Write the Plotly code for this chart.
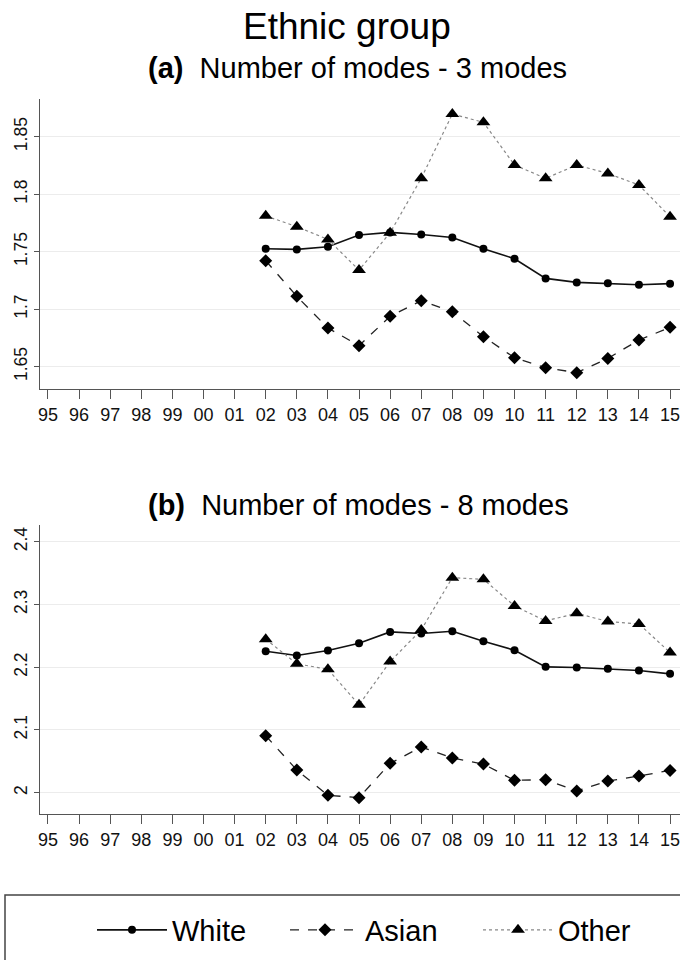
import plotly.graph_objects as go
from plotly.subplots import make_subplots

# Survey years shown on the x axis (two-digit labels)
years = ["95", "96", "97", "98", "99", "00", "01", "02", "03", "04",
         "05", "06", "07", "08", "09", "10", "11", "12", "13", "14", "15"]
data_years = ["02", "03", "04", "05", "06", "07", "08", "09", "10",
              "11", "12", "13", "14", "15"]

# (a) Number of modes - 3 modes
white_3 = [1.7526, 1.7520, 1.7543, 1.7645, 1.7668, 1.7650, 1.7624,
           1.7526, 1.7439, 1.7268, 1.7233, 1.7225, 1.7213, 1.7222]
asian_3 = [1.7422, 1.7112, 1.6836, 1.6683, 1.6938, 1.7074, 1.6978,
           1.6761, 1.6578, 1.6491, 1.6448, 1.6572, 1.6732, 1.6842]
other_3 = [1.7812, 1.7717, 1.7607, 1.7340, 1.7665, 1.8138, 1.8697,
           1.8625, 1.8254, 1.8138, 1.8254, 1.8181, 1.8080, 1.7804]

# (b) Number of modes - 8 modes
white_8 = [2.2255, 2.2186, 2.2265, 2.2382, 2.2562, 2.2536, 2.2573,
           2.2414, 2.2270, 2.2005, 2.1995, 2.1973, 2.1947, 2.1894]
asian_8 = [2.0907, 2.0361, 1.9958, 1.9920, 2.0467, 2.0727, 2.0552,
           2.0456, 2.0196, 2.0207, 2.0027, 2.0186, 2.0265, 2.0355]
other_8 = [2.2446, 2.2053, 2.1968, 2.1400, 2.2090, 2.2594, 2.3427,
           2.3400, 2.2976, 2.2737, 2.2859, 2.2727, 2.2690, 2.2233]

W, H = 680, 960
L_MARGIN = 40
FONT = "Liberation Sans, Arial, sans-serif"

fig = make_subplots(rows=2, cols=1, shared_xaxes=False)

series = [
    ("White", dict(color="#111111", width=1.6, dash="solid"),
     dict(symbol="circle", size=8, color="#000000")),
    ("Asian", dict(color="#222222", width=1.3, dash="dash"),
     dict(symbol="diamond", size=10, color="#000000")),
    ("Other", dict(color="#888888", width=1.2, dash="dot"),
     dict(symbol="triangle-up", size=12, color="#000000")),
]
panel_values = [(white_3, asian_3, other_3), (white_8, asian_8, other_8)]

for row, vals in enumerate(panel_values, start=1):
    for (name, line, marker), y in zip(series, vals):
        fig.add_trace(go.Scatter(
            x=data_years, y=y, name=name, mode="lines+markers",
            line=line, marker=marker, showlegend=(row == 1),
        ), row=row, col=1)

axis_common = dict(
    showline=True, linecolor="#555555", linewidth=1.2, zeroline=False,
)
xr = [-0.257, 20.32]
for ax in ("xaxis", "xaxis2"):
    fig.layout[ax].update(
        type="category", categoryorder="array", categoryarray=years,
        range=xr, showgrid=False, ticks="outside", ticklen=9,
        tickcolor="#555555", tickwidth=1.2, domain=[0, 1],
        tickfont=dict(family=FONT, size=18, color="#111111"),
        **axis_common,
    )

fig.layout.yaxis.update(
    domain=[1 - 389 / H, 1 - 99 / H], range=[1.6306, 1.8828],
    tickvals=[1.65, 1.7, 1.75, 1.8, 1.85],
    ticktext=["1.65", "1.7", "1.75", "1.8", "1.85"],
)
fig.layout.yaxis2.update(
    domain=[1 - 814 / H, 1 - 525 / H], range=[1.966, 2.4266],
    tickvals=[2.0, 2.1, 2.2, 2.3, 2.4],
    ticktext=["2", "2.1", "2.2", "2.3", "2.4"],
)
for ax in ("yaxis", "yaxis2"):
    fig.layout[ax].update(
        showgrid=True, gridcolor="#ececec", gridwidth=1,
        tickangle=-90, ticks="outside", ticklen=5, tickcolor="#555555",
        tickfont=dict(family=FONT, size=17.5, color="#111111"),
        **axis_common,
    )


def px_x(x):
    return (x - L_MARGIN) / (W - L_MARGIN)


annotations = [
    dict(text="Ethnic group", x=px_x(347), y=1 - 26 / H, xanchor="center",
         font=dict(family=FONT, size=37, color="#000000")),
    dict(text="<b>(a)</b>  Number of modes - 3 modes", x=px_x(146),
         y=1 - 68 / H, xanchor="left",
         font=dict(family=FONT, size=29, color="#000000")),
    dict(text="<b>(b)</b>  Number of modes - 8 modes", x=px_x(146),
         y=1 - 505 / H, xanchor="left",
         font=dict(family=FONT, size=29, color="#000000")),
]
for a in annotations:
    a.update(xref="paper", yref="paper", yanchor="middle", showarrow=False)

fig.update_layout(
    width=W, height=H,
    margin=dict(l=L_MARGIN, r=0, t=0, b=0),
    paper_bgcolor="white", plot_bgcolor="white",
    annotations=annotations,
    shapes=[dict(type="rect", xref="paper", yref="paper",
                 x0=px_x(5), x1=1.02, y0=1 - 895 / H, y1=-0.02,
                 line=dict(color="#444444", width=1.5),
                 fillcolor="rgba(0,0,0,0)")],
    legend=dict(
        orientation="h", xref="paper", yref="paper",
        x=px_x(92), xanchor="left", y=1 - 930 / H, yanchor="middle",
        font=dict(family=FONT, size=29, color="#000000"),
        itemwidth=70, entrywidthmode="pixels", entrywidth=108,
        bgcolor="rgba(0,0,0,0)", borderwidth=0, traceorder="normal",
    ),
)

fig.write_html("out.html")
